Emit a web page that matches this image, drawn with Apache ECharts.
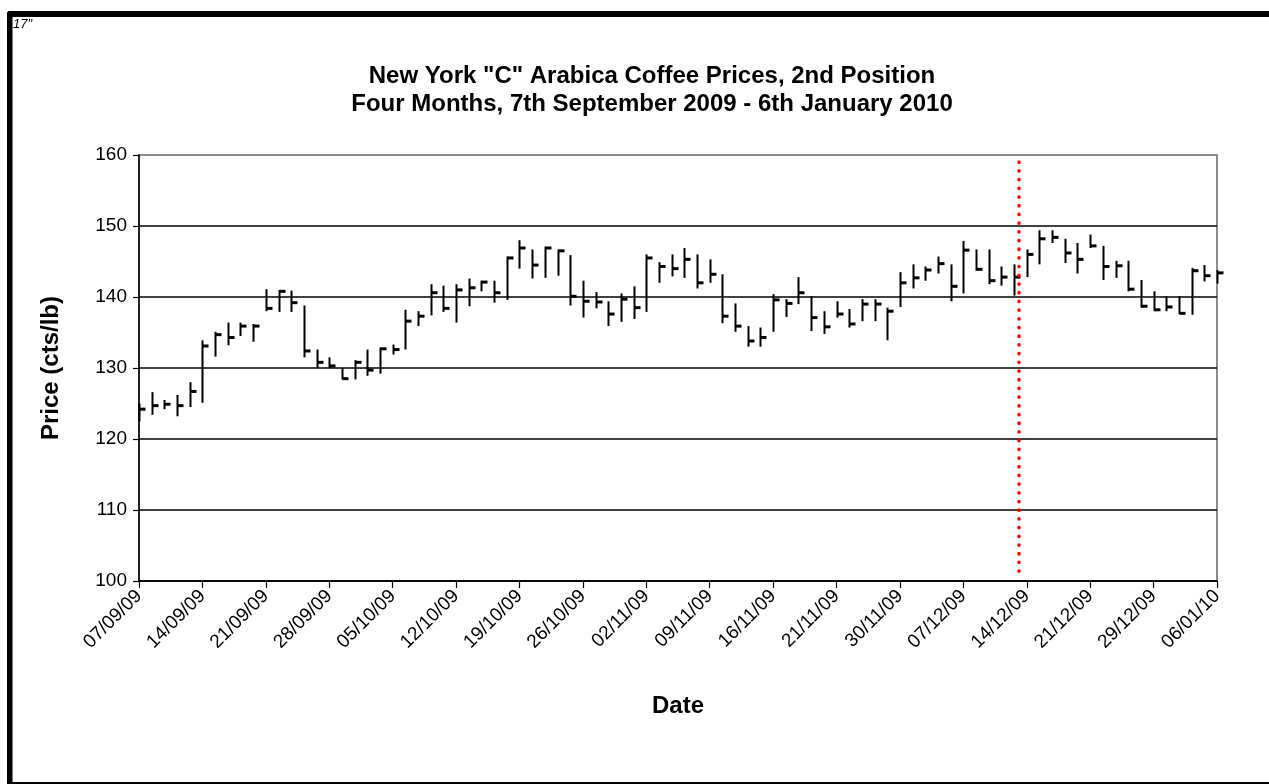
<!DOCTYPE html>
<html>
<head>
<meta charset="utf-8">
<script src="https://cdn.jsdelivr.net/npm/echarts@6/dist/echarts.min.js"></script>
<style>
html,body{margin:0;padding:0;background:#fff;}
#chart{width:1269px;height:784px;}
</style>
</head>
<body>
<div id="chart"></div>
<script>
const dates = [
 '07/09/09','08/09/09','09/09/09','10/09/09','11/09/09',
 '14/09/09','15/09/09','16/09/09','17/09/09','18/09/09',
 '21/09/09','22/09/09','23/09/09','24/09/09','25/09/09',
 '28/09/09','29/09/09','30/09/09','01/10/09','02/10/09',
 '05/10/09','06/10/09','07/10/09','08/10/09','09/10/09',
 '12/10/09','13/10/09','14/10/09','15/10/09','16/10/09',
 '19/10/09','20/10/09','21/10/09','22/10/09','23/10/09',
 '26/10/09','27/10/09','28/10/09','29/10/09','30/10/09',
 '02/11/09','03/11/09','04/11/09','05/11/09','06/11/09',
 '09/11/09','10/11/09','11/11/09','12/11/09','13/11/09',
 '16/11/09','17/11/09','18/11/09','19/11/09','20/11/09',
 '21/11/09','23/11/09','24/11/09','25/11/09','27/11/09',
 '30/11/09','01/12/09','02/12/09','03/12/09','04/12/09',
 '07/12/09','08/12/09','09/12/09','10/12/09','11/12/09',
 '14/12/09','15/12/09','16/12/09','17/12/09','18/12/09',
 '21/12/09','22/12/09','23/12/09','24/12/09','28/12/09',
 '29/12/09','30/12/09','31/12/09','04/01/10','05/01/10',
 '06/01/10'
];
const highs = [
 125.0,126.6,125.5,126.2,128.0, 133.9,135.1,136.4,136.4,136.2,
 141.1,141.0,140.9,138.8,132.6, 131.5,130.0,131.1,132.6,132.9,
 133.3,138.2,138.0,141.8,141.6, 141.8,142.6,142.3,142.3,145.7,
 148.0,146.7,147.1,146.7,145.9, 142.3,140.7,139.4,140.5,141.5,
 146.0,144.9,146.0,146.9,146.0, 145.3,143.2,139.1,135.9,135.7,
 140.4,139.7,142.8,140.1,138.0, 139.4,138.3,139.7,139.7,138.5,
 143.5,144.6,144.3,145.7,144.6, 147.9,146.7,146.7,144.3,144.6,
 146.7,149.4,149.4,148.2,147.6, 148.8,147.2,145.1,145.1,142.4,
 140.8,140.1,140.1,144.1,144.5, 143.8
];
const lows = [
 122.5,123.4,124.2,123.2,124.5, 125.1,131.6,133.2,134.5,133.7,
 138.0,137.9,137.9,131.5,130.0, 130.0,128.4,128.4,128.9,129.2,
 131.9,132.6,135.9,137.4,137.9, 136.4,138.7,140.8,139.2,139.6,
 144.0,142.6,142.7,143.0,138.8, 137.1,138.4,135.9,136.5,136.9,
 137.9,142.0,142.9,142.7,141.2, 142.0,136.3,135.1,133.0,133.0,
 135.1,137.2,139.0,135.2,134.8, 137.1,135.7,136.6,136.6,133.9,
 138.6,141.2,142.3,143.3,139.4, 140.5,143.7,141.8,141.6,140.2,
 142.8,144.6,147.6,144.8,143.3, 146.9,142.4,142.7,140.8,138.5,
 138.0,138.0,137.6,137.5,142.2, 141.9
];
const closes = [
 124.2,124.7,124.9,124.7,126.7, 133.1,134.7,134.3,135.9,135.9,
 138.4,140.8,139.2,132.4,130.8, 130.3,128.5,130.8,129.7,132.7,
 132.6,136.6,137.3,140.6,138.4, 141.0,141.3,142.1,140.6,145.5,
 146.9,144.5,146.9,146.5,140.1, 139.4,139.3,137.6,139.7,138.5,
 145.5,144.3,144.0,145.3,142.0, 143.2,137.3,135.9,133.8,134.3,
 139.6,139.1,140.6,137.1,135.8, 137.6,136.2,139.0,139.0,138.0,
 142.0,142.7,143.8,144.7,141.5, 146.6,143.9,142.3,142.8,142.8,
 146.0,148.2,148.4,146.2,145.3, 147.2,144.3,144.4,141.1,138.7,
 138.2,138.6,137.7,143.7,143.0, 143.4
];
const yTicks = [100,110,120,130,140,150,160];
const markerPos = 69.39;   // red dotted marker between 11/12/09 and 14/12/09 (category index units)
const markerRange = [159.0, 100.4];

const FONT = '"Liberation Sans", Arial, Helvetica, sans-serif';
const hlc = dates.map((d, i) => [i, highs[i], lows[i], closes[i]]);

function renderHLC(params, api) {
  const idx = api.value(0);
  const pHi = api.coord([idx, api.value(1)]);
  const pLo = api.coord([idx, api.value(2)]);
  const pCl = api.coord([idx, api.value(3)]);
  const x = Math.round(pHi[0]) + 0.5;
  return {
    type: 'group',
    children: [
      {type: 'line', shape: {x1: x, y1: pHi[1], x2: x, y2: pLo[1]},
       style: {stroke: '#000', lineWidth: 2}},
      {type: 'line', shape: {x1: x, y1: pCl[1], x2: x + 6, y2: pCl[1]},
       style: {stroke: '#000', lineWidth: 3}}
    ]
  };
}

const chart = echarts.init(document.getElementById('chart'), null, {renderer: 'canvas'});
chart.setOption({
  backgroundColor: '#fff',
  animation: false,
  title: {
    text: 'New York "C" Arabica Coffee Prices, 2nd Position\nFour Months, 7th September 2009 - 6th January 2010',
    left: 652, top: 62, padding: 0, textAlign: 'center',
    textStyle: {fontFamily: FONT, fontSize: 24, fontWeight: 'bold', color: '#000', lineHeight: 28}
  },
  grid: {left: 139, right: 52, top: 155, bottom: 203, show: true,
         borderColor: '#8c8c8c', borderWidth: 2, backgroundColor: '#fff'},
  xAxis: [{
    type: 'category', data: dates, boundaryGap: false,
    name: 'Date', nameLocation: 'middle', nameGap: 113,
    nameTextStyle: {fontFamily: FONT, fontSize: 24, fontWeight: 'bold', color: '#000'},
    axisLine: {lineStyle: {color: '#000', width: 1.5}},
    axisTick: {show: true, interval: 4, length: 7, lineStyle: {color: '#000', width: 1.2}},
    axisLabel: {interval: 4, rotate: 45, margin: 12, fontFamily: FONT, fontSize: 19, color: '#000'},
    splitLine: {show: false}
  }, {
    type: 'value', min: 0, max: dates.length - 1, show: false
  }],
  yAxis: {
    type: 'value', min: yTicks[0], max: yTicks[yTicks.length - 1], interval: 10,
    name: 'Price (cts/lb)', nameLocation: 'middle', nameGap: 76, nameRotate: 90,
    nameTextStyle: {fontFamily: FONT, fontSize: 24, fontWeight: 'bold', color: '#000'},
    axisLine: {show: true, lineStyle: {color: '#000', width: 1.5}},
    axisTick: {show: true, length: 6, lineStyle: {color: '#000', width: 1.2}},
    axisLabel: {margin: 12, fontFamily: FONT, fontSize: 19, color: '#000'},
    splitLine: {show: true, lineStyle: {color: ['#000','#000','#000','#000','#000','#000','#8c8c8c'], width: 1.6}}
  },
  series: [{
    type: 'custom', xAxisIndex: 0, yAxisIndex: 0,
    renderItem: renderHLC,
    encode: {x: 0, y: [1, 2, 3]},
    data: hlc, z: 5
  }, {
    type: 'line', xAxisIndex: 1, yAxisIndex: 0,
    data: [[markerPos, markerRange[0]], [markerPos, markerRange[1]]],
    symbol: 'none', silent: true, z: 6,
    lineStyle: {color: '#ff0000', width: 3.5, type: [0.3, 8.4], cap: 'round'}
  }],
  graphic: [
    {type: 'rect', shape: {x: 7, y: 11, width: 1262, height: 6, r: [3, 0, 0, 0]}, style: {fill: '#000'}, silent: true},
    {type: 'rect', shape: {x: 7, y: 11, width: 5.5, height: 773, r: [3, 0, 0, 0]}, style: {fill: '#000'}, silent: true},
    {type: 'rect', shape: {x: 7, y: 782, width: 1262, height: 2}, style: {fill: '#000'}, silent: true},
    {type: 'text', x: 13, y: 18, style: {text: '17"', fontFamily: FONT, fontSize: 13, fontStyle: 'italic', fill: '#000'}, silent: true}
  ]
});
</script>
</body>
</html>
